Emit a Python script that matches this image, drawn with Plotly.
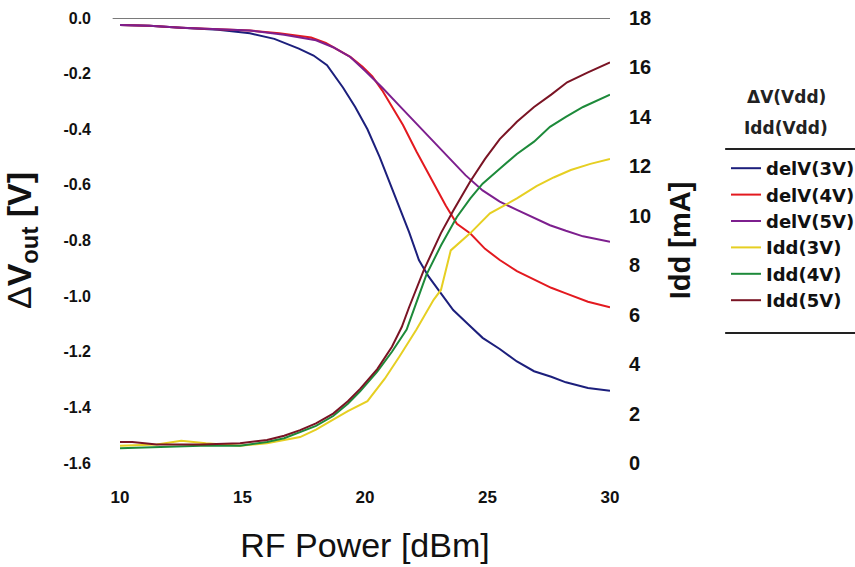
import plotly.graph_objects as go

# RF input power sweep [dBm] and measured curves for three supply voltages
rf_dv3 = [10, 11.2, 12.5, 14, 15.3, 16.3, 17.3, 17.9, 18.45, 19.1, 19.6, 20.1, 20.6, 21.0,
          21.4, 21.8, 22.2, 22.6, 23.1, 23.6, 24.2, 24.8, 25.5, 26.2, 26.9, 27.6, 28.2, 29.1, 30]
dv3 = [-0.025, -0.028, -0.035, -0.042, -0.055, -0.075, -0.11, -0.135, -0.17, -0.25, -0.32,
       -0.40, -0.50, -0.59, -0.68, -0.77, -0.87, -0.93, -0.99, -1.05, -1.10, -1.15, -1.19,
       -1.235, -1.27, -1.29, -1.31, -1.33, -1.34]

rf_dv4 = [10, 11.2, 12.5, 14, 15.3, 16.5, 17.8, 18.4, 18.9, 19.4, 19.9, 20.3, 20.7, 21.1,
          21.55, 22.1, 22.5, 22.9, 23.3, 23.75, 24.3, 24.9, 25.5, 26.2, 26.9, 27.6, 28.2, 29.1, 30]
dv4 = [-0.025, -0.028, -0.035, -0.04, -0.045, -0.055, -0.07, -0.09, -0.115, -0.14, -0.175,
       -0.21, -0.26, -0.32, -0.385, -0.48, -0.545, -0.61, -0.675, -0.74, -0.775, -0.83, -0.87,
       -0.91, -0.94, -0.97, -0.99, -1.02, -1.04]

rf_dv5 = [10, 11.2, 12.5, 14, 15.3, 16.7, 18.0, 18.7, 19.4, 20.0, 20.7, 21.4, 22.1, 22.8,
          23.5, 24.1, 24.8, 25.5, 26.2, 26.9, 27.55, 28.2, 28.9, 30]
dv5 = [-0.025, -0.028, -0.035, -0.04, -0.045, -0.06, -0.08, -0.105, -0.14, -0.19, -0.25,
       -0.315, -0.38, -0.445, -0.51, -0.565, -0.62, -0.66, -0.69, -0.72, -0.745, -0.765,
       -0.785, -0.805]

rf_idd3 = [10, 11.5, 12.5, 13.5, 14.9, 16.0, 17.35, 18.0, 18.7, 19.3, 20.1, 20.8, 21.4, 22.1,
           22.8, 23.1, 23.5, 24.3, 25.1, 26.2, 27.0, 27.7, 28.4, 29.2, 30]
idd3 = [0.7, 0.75, 0.9, 0.8, 0.7, 0.8, 1.05, 1.35, 1.75, 2.1, 2.5, 3.4, 4.3, 5.4, 6.6, 7.0,
        8.6, 9.3, 10.1, 10.7, 11.2, 11.55, 11.85, 12.1, 12.3]

rf_idd4 = [10, 11.5, 13.3, 14.9, 16.0, 16.7, 17.35, 18.0, 18.7, 19.3, 19.8, 20.5, 21.1, 21.7,
           22.1, 22.5, 23.1, 23.75, 24.3, 24.8, 25.5, 26.2, 26.9, 27.55, 28.2, 28.9, 30]
idd4 = [0.6, 0.65, 0.7, 0.7, 0.85, 1.0, 1.25, 1.5, 1.9, 2.4, 2.9, 3.7, 4.5, 5.4, 6.5, 7.6,
        8.8, 9.95, 10.7, 11.3, 11.9, 12.5, 13.0, 13.6, 14.0, 14.4, 14.9]

rf_idd5 = [10, 10.5, 11.5, 13.3, 14.9, 16.0, 16.7, 17.35, 18.0, 18.7, 19.3, 19.8, 20.5, 21.1,
           21.5, 21.8, 22.4, 23.1, 23.6, 24.3, 24.9, 25.5, 26.2, 26.9, 27.6, 28.25, 29.1, 30]
idd5 = [0.85, 0.85, 0.75, 0.75, 0.8, 0.93, 1.1, 1.33, 1.6, 2.0, 2.5, 3.0, 3.8, 4.7, 5.5, 6.3,
        7.8, 9.3, 10.2, 11.4, 12.3, 13.1, 13.8, 14.4, 14.9, 15.4, 15.8, 16.2]

x_ticks = [10, 15, 20, 25, 30]
dv_ticks = [0.0, -0.2, -0.4, -0.6, -0.8, -1.0, -1.2, -1.4, -1.6]
dv_labels = ["0.0", "-0.2", "-0.4", "-0.6", "-0.8", "-1.0", "-1.2", "-1.4", "-1.6"]
idd_ticks = [0, 2, 4, 6, 8, 10, 12, 14, 16, 18]

series = [
    ("delV(3V)", rf_dv3, dv3, "#1c1f7c", "y"),
    ("delV(4V)", rf_dv4, dv4, "#e3191f", "y"),
    ("delV(5V)", rf_dv5, dv5, "#7d1f8e", "y"),
    ("Idd(3V)", rf_idd3, idd3, "#e6cf22", "y2"),
    ("Idd(4V)", rf_idd4, idd4, "#1d8a3a", "y2"),
    ("Idd(5V)", rf_idd5, idd5, "#7a1424", "y2"),
]

fig = go.Figure()
for name, xs, ys, color, axis in series:
    fig.add_trace(go.Scatter(x=xs, y=ys, name=name, mode="lines", yaxis=axis,
                             line=dict(color=color, width=2)))

ink = "#111111"
W, H = 855, 567

fig.update_layout(
    width=W, height=H,
    margin=dict(l=120, r=245, t=18, b=104),
    paper_bgcolor="white", plot_bgcolor="white",
    showlegend=True,
    xaxis=dict(range=[10, 30], tickvals=x_ticks, showgrid=False, zeroline=False,
               showline=False, ticks="", ticklabelstandoff=22, automargin=False,
               tickfont=dict(family="Liberation Sans", size=17, color=ink, weight="bold"),
               title=dict(text="RF Power [dBm]", standoff=27,
                          font=dict(family="Liberation Sans", size=34, color=ink))),
    yaxis=dict(range=[-1.6, 0], tickvals=dv_ticks, ticktext=dv_labels, showgrid=False,
               zeroline=False, showline=False, ticks="", ticklabelstandoff=28,
               automargin=False,
               tickfont=dict(family="Liberation Sans", size=16, color=ink, weight="bold"),
               title=dict(text="Δ<b>V</b><sub><b>out</b></sub><b> [V]</b>", standoff=28,
                          font=dict(family="Liberation Sans", size=34, color=ink))),
    yaxis2=dict(range=[0, 18], tickvals=idd_ticks, overlaying="y", side="right",
                showgrid=False, zeroline=False, showline=False, ticks="",
                ticklabelstandoff=18, automargin=False,
                tickfont=dict(family="Liberation Sans", size=20, color=ink, weight="bold"),
                title=dict(text="Idd [mA]", standoff=18,
                           font=dict(family="Liberation Sans", size=29, color=ink,
                                     weight="bold"))),
    legend=dict(xref="container", yref="container", x=726 / W, y=1 - 150 / H,
                xanchor="left", yanchor="top",
                bgcolor="rgba(0,0,0,0)", borderwidth=0,
                font=dict(family="DejaVu Sans", size=18, color=ink, weight="bold"),
                tracegroupgap=0),
    annotations=[
        # two-line heading above the legend entries
        dict(text="ΔV(Vdd)", xref="paper", yref="paper", x=(786 - 120) / 490,
             y=(463 - 97) / 445, xanchor="center", yanchor="middle", showarrow=False,
             font=dict(family="DejaVu Sans", size=17, color="#222222", weight="bold")),
        dict(text="Idd(Vdd)", xref="paper", yref="paper", x=(786 - 120) / 490,
             y=(463 - 128) / 445, xanchor="center", yanchor="middle", showarrow=False,
             font=dict(family="DejaVu Sans", size=17, color="#222222", weight="bold")),
    ],
    shapes=[
        # reference line at 0 V / 18 mA across the top of the plot
        dict(type="line", xref="paper", yref="y", x0=-0.015, x1=1, y0=0, y1=0,
             line=dict(color="#7a7a7a", width=2)),
        # rules above and below the legend entries
        dict(type="line", xref="paper", yref="paper", x0=1.235, x1=1.5, y0=0.7056, y1=0.7056,
             line=dict(color="#222222", width=2)),
        dict(type="line", xref="paper", yref="paper", x0=1.235, x1=1.5, y0=0.292, y1=0.292,
             line=dict(color="#222222", width=2)),
    ],
)

fig.write_html("out.html")
